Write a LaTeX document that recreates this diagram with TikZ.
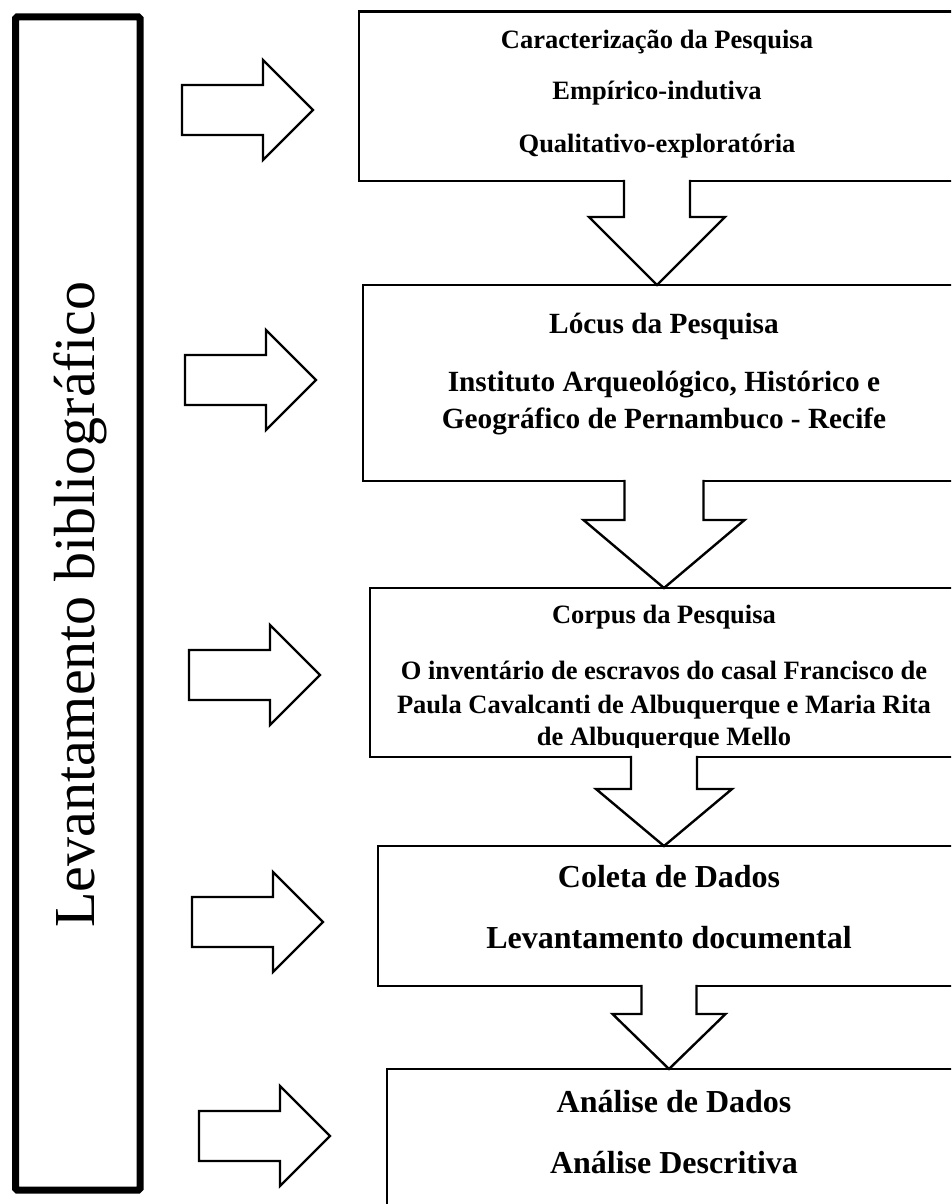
\documentclass[tikz,border=0pt]{standalone}
\usepackage{fontspec}
\setmainfont{Liberation Serif}
\usetikzlibrary{calc}
\tikzset{
  frame/.style={draw, line width=2.4pt, outer sep=0pt, inner sep=0pt, rectangle},
  bigframe/.style={draw, line width=7pt, outer sep=0pt, inner sep=0pt, rectangle, rounded corners=1.5pt},
  blk/.style={draw, line width=2.4pt, line join=miter},
  levtxt/.style={font=\fontsize{58pt}{64pt}\selectfont, inner sep=0pt, anchor=base, rotate=90},
  tA/.style={font=\bfseries\fontsize{26.5pt}{30pt}\selectfont, inner sep=0pt, anchor=base},
  tB/.style={font=\bfseries\fontsize{29.3pt}{33pt}\selectfont, inner sep=0pt, anchor=base},
  tC/.style={font=\bfseries\fontsize{32pt}{36pt}\selectfont, inner sep=0pt, anchor=base}
}
\newcommand\dnarrow[5]{%
  \coordinate (tip#1) at (#1.south|-#2.north);
  \fill[white] ($(#1.south)+(-#3,-4)$) rectangle ($(#1.south)+(#3,2)$);
  \draw[blk] ($(#1.south)+(-#3,-1.2)$) -- ($(tip#1)+(-#3,-#5)$) -- ($(tip#1)+(-#4,-#5)$)
     -- (tip#1) -- ($(tip#1)+(#4,-#5)$) -- ($(tip#1)+(#3,-#5)$) -- ($(#1.south)+(#3,-1.2)$);
}
\newcommand\rarrow[3]{%
  \coordinate (#1) at (#2,#3);
  \draw[blk] ($(#1)+(0,-25)$) -- ($(#1)+(81,-25)$) -- ($(#1)+(81,-50)$) -- ($(#1)+(131,0)$)
     -- ($(#1)+(81,50)$) -- ($(#1)+(81,25)$) -- ($(#1)+(0,25)$) -- cycle;
}
\begin{document}
\begin{tikzpicture}[x=1pt,y=-1pt]
\useasboundingbox (0,0) rectangle (951,1204);
\clip (0,0) rectangle (951,1204);
\fill[white] (0,0) rectangle (951,1204);

% left frame
\node[bigframe, minimum width=124.3pt, minimum height=1173pt, anchor=north west] (lev) at (15.7,17) {};
\node[levtxt] (levt) at (94,605) {Levantamento bibliográfico};

% boxes
\node[frame, minimum width=596pt, minimum height=169.5pt, anchor=north west] (b1) at (359,11.5) {};
\node[frame, minimum width=602pt, minimum height=196pt, anchor=north west] (b2) at (363,285) {};
\node[frame, minimum width=588pt, minimum height=169pt, anchor=north west] (b3) at (370,588) {};
\node[frame, minimum width=582pt, minimum height=140pt, anchor=north west] (b4) at (378,846) {};
\node[frame, minimum width=574pt, minimum height=200pt, anchor=north west] (b5) at (387,1069) {};

% texts
\node[tA] (b1a) at (657,49) {Caracterização da Pesquisa};
\node[tA] (b1b) at (657,100) {Empírico-indutiva};
\node[tA] (b1c) at (657,152) {Qualitativo-exploratória};

\node[tB] (b2a) at (664,333) {Lócus da Pesquisa};
\node[tB] (b2b) at (664,391) {Instituto Arqueológico, Histórico e};
\node[tB] (b2c) at (664,428) {Geográfico de Pernambuco - Recife};

\begin{scope}
\clip (372,590) rectangle (951,747);
\node[tA] (b3a) at (664,623) {Corpus da Pesquisa};
\node[tA] (b3b) at (664,679) {O inventário de escravos do casal Francisco de};
\node[tA] (b3c) at (664,713) {Paula Cavalcanti de Albuquerque e Maria Rita};
\node[tA] (b3d) at (664,745) {de Albuquerque Mello};
\end{scope}

\node[tC] (b4a) at (669,887) {Coleta de Dados};
\node[tC] (b4b) at (669,948) {Levantamento documental};

\node[tC] (b5a) at (674,1112) {Análise de Dados};
\node[tC] (b5b) at (674,1173) {Análise Descritiva};

% down arrows
\dnarrow{b1}{b2}{33}{68}{68}
\dnarrow{b2}{b3}{39.5}{80.5}{68}
\dnarrow{b3}{b4}{33}{68}{57}
\dnarrow{b4}{b5}{27.5}{56.5}{55}

% right arrows
\rarrow{ra1}{182}{110}
\rarrow{ra2}{185}{380}
\rarrow{ra3}{189}{675}
\rarrow{ra4}{192}{922}
\rarrow{ra5}{199}{1136}
\end{tikzpicture}
\end{document}
